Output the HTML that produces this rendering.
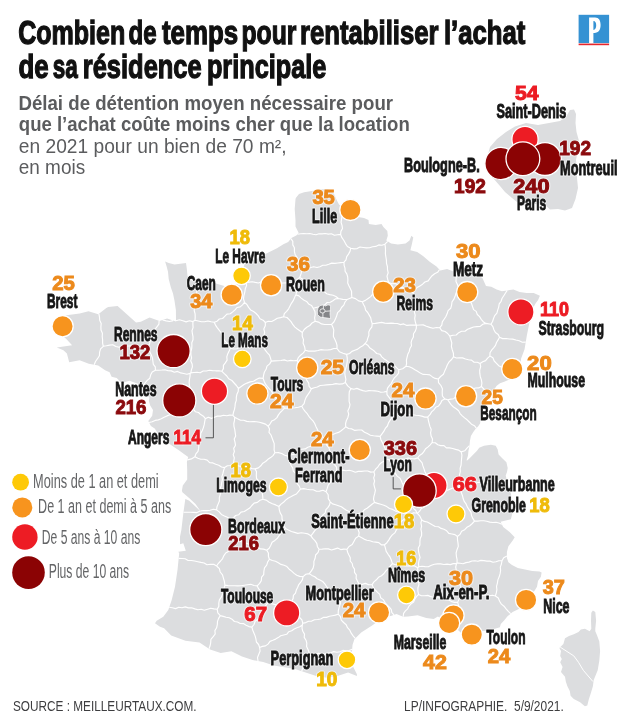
<!DOCTYPE html>
<html><head><meta charset="utf-8"><style>
html,body{margin:0;padding:0;background:#fff;}
svg{display:block;will-change:transform;}
text{font-family:"Liberation Sans",sans-serif;}
</style></head><body>
<svg width="622" height="720" viewBox="0 0 622 720">
<rect width="622" height="720" fill="#fff"/>
<path d="M327.3,189.0 L332.4,190.9 L334.4,194.8 L336.9,200.6 L339.0,204.4 L342.5,207.5 L349.0,212.0 L355.0,215.5 L359.5,217.3 L364.0,217.9 L368.5,219.9 L368.9,224.1 L375.7,225.1 L381.5,224.1 L383.4,227.0 L387.3,230.9 L387.8,235.7 L386.3,240.5 L391.1,243.4 L397.9,244.4 L405.6,243.4 L409.5,240.5 L411.4,235.7 L413.3,237.6 L411.8,244.4 L410.4,250.2 L417.2,252.1 L423.0,256.0 L429.7,261.7 L436.5,266.6 L440.3,270.4 L447.1,269.1 L454.1,271.8 L462.0,272.5 L470.0,272.5 L478.0,275.0 L482.4,278.0 L486.0,286.0 L491.3,286.8 L496.6,289.5 L501.9,291.3 L507.2,290.4 L513.4,289.5 L519.6,292.1 L526.6,293.0 L533.7,293.0 L539.9,295.7 L538.1,300.1 L535.5,303.6 L533.0,308.0 L529.1,324.2 L526.8,335.7 L524.5,349.4 L521.1,358.5 L520.0,368.0 L518.5,376.0 L516.5,379.0 L508.3,380.0 L504.2,381.7 L500.0,383.3 L496.7,385.8 L493.3,390.8 L489.0,396.0 L486.0,401.0 L483.0,406.0 L481.0,412.0 L480.5,418.0 L480.2,423.3 L478.2,426.3 L475.3,429.2 L473.3,432.1 L470.9,436.0 L469.9,440.9 L469.5,445.7 L468.5,450.6 L468.0,455.4 L466.5,460.5 L467.5,460.3 L470.4,457.4 L473.3,454.5 L476.3,451.6 L477.2,450.6 L479.2,447.7 L484.0,445.7 L490.9,444.7 L495.7,445.7 L497.7,449.6 L498.6,454.5 L502.5,458.4 L506.4,462.3 L507.7,468.0 L507.0,472.0 L505.7,475.4 L508.0,485.0 L510.9,493.4 L512.0,505.0 L512.2,514.0 L510.9,519.2 L505.7,520.5 L500.6,521.7 L503.2,526.9 L509.6,532.0 L514.7,537.2 L512.7,540.5 L510.5,543.4 L508.4,546.3 L506.9,552.1 L506.9,557.9 L508.4,562.2 L512.0,565.1 L517.8,568.0 L525.0,569.5 L532.2,570.9 L539.5,571.6 L541.6,572.4 L540.9,576.7 L538.0,581.0 L537.0,586.8 L535.0,590.0 L533.0,593.0 L529.5,595.5 L523.5,598.1 L519.3,608.7 L512.6,612.1 L507.5,616.3 L504.1,620.5 L500.8,623.9 L499.9,627.3 L494.0,629.0 L487.3,630.6 L482.2,631.0 L479.6,636.0 L470.4,634.8 L465.1,636.7 L458.0,630.0 L452.4,629.9 L446.2,628.5 L446.1,624.5 L443.9,620.6 L437.9,616.5 L433.7,619.0 L426.3,618.1 L417.6,615.2 L408.1,616.5 L403.1,616.7 L396.5,614.0 L391.6,615.8 L382.3,618.1 L378.3,621.0 L372.1,625.6 L361.2,632.4 L354.4,639.3 L352.5,645.0 L351.6,656.6 L353.4,667.2 L356.9,674.3 L356.9,676.1 L348.1,672.5 L337.5,676.1 L326.9,677.8 L316.3,676.1 L305.6,672.5 L295.0,669.0 L284.4,667.2 L273.8,665.4 L263.2,661.9 L252.6,660.1 L242.0,656.6 L231.4,651.3 L220.7,653.1 L210.1,649.5 L199.5,642.4 L185.4,640.7 L171.2,635.4 L164.1,628.3 L160.0,626.7 L155.0,623.3 L156.7,620.8 L163.3,616.7 L168.3,610.0 L171.7,600.0 L175.0,586.7 L177.5,570.0 L179.2,553.3 L178.3,551.7 L185.8,550.8 L183.3,543.3 L180.0,544.2 L180.0,536.7 L181.4,529.8 L183.3,513.4 L185.3,498.9 L189.0,500.5 L196.0,507.0 L200.7,511.5 L195.5,504.0 L189.1,498.0 L182.4,492.2 L181.9,490.7 L182.8,485.4 L187.2,479.6 L187.2,470.0 L186.9,462.0 L188.2,456.9 L184.3,454.3 L179.2,450.5 L171.4,445.3 L163.0,439.0 L157.0,432.0 L154.7,428.6 L150.9,426.0 L148.3,420.9 L152.2,415.7 L153.0,410.0 L150.2,405.4 L148.9,400.9 L149.4,397.2 L139.9,395.6 L136.3,392.5 L138.7,384.1 L129.4,380.7 L121.6,383.1 L116.7,378.0 L111.6,376.7 L109.6,372.2 L105.1,370.3 L98.2,365.5 L88.8,363.7 L79.6,360.2 L69.2,362.2 L66.9,353.4 L63.4,350.3 L56.8,347.4 L72.1,345.3 L66.3,339.1 L62.8,336.0 L66.8,333.5 L67.0,330.7 L56.8,330.9 L57.1,324.1 L60.6,318.7 L66.5,315.2 L79.7,313.5 L88.5,311.3 L98.3,314.3 L106.3,308.1 L108.2,307.1 L117.6,306.0 L124.6,312.2 L131.0,318.0 L136.0,322.5 L140.8,321.7 L149.6,317.6 L159.5,321.0 L167.1,318.6 L176.0,321.5 L175.9,310.0 L174.5,300.7 L173.0,293.4 L170.9,287.6 L168.7,278.9 L168.0,271.7 L166.5,265.9 L165.1,261.6 L168.7,263.0 L174.5,264.5 L180.3,263.7 L186.0,263.0 L186.8,268.8 L187.5,276.0 L190.0,280.0 L196.0,281.5 L204.1,280.4 L214.3,283.0 L227.7,286.9 L237.0,284.3 L245.6,279.4 L241.0,275.3 L243.0,269.1 L245.0,262.9 L251.3,260.2 L256.1,259.6 L262.5,255.6 L268.9,252.3 L277.0,248.3 L283.4,244.3 L288.2,241.9 L291.4,237.9 L296.3,235.5 L298.7,233.1 L295.5,226.6 L295.5,220.2 L294.7,208.9 L295.5,199.3 L295.8,198.0 L299.0,194.1 L304.1,192.2 L311.9,190.9 L319.6,189.6Z" fill="#dcdddf"/>
<path d="M592.9,610.4 L595.3,612 L596.1,620.8 L595.3,628.8 L595.3,631.2 L596.9,635.1 L599.3,641.5 L600.1,651.1 L599.3,660.7 L597.7,670.3 L593.7,679.9 L592.9,686.3 L590.5,694.2 L588.9,699 L587.3,705.4 L584.9,706.2 L580.1,702.2 L573.8,699 L570.6,695.8 L569.8,691.1 L567.4,686.3 L565.8,681.5 L565,676.7 L561,671.9 L562.6,667.1 L560.2,662.3 L561.8,659.1 L560.2,655.9 L561,651.1 L559.4,647.9 L563.4,643.9 L565,638.3 L569,635.9 L573.8,634.3 L578.5,632 L580.9,629.6 L584.9,628.8 L589.7,631.2 L591.3,628.8 L591,620.8 L591.3,612.8Z" fill="#dcdddf"/>
<path d="M560.2,647.1 L573.8,655.9 L578.5,662.3 L583.3,670.3 L592.9,681.5" fill="none" stroke="#fff" stroke-width="1"/>
<path d="M342.3,207.3 L342.7,210.4 L342.1,213.3 L342.1,216.4 L341.5,219.4 L341.1,222.4 L342.0,225.4 L342.5,228.5 L340.9,231.4 L340.6,234.4 M340.6,234.4 L337.5,234.8 L334.4,235.3 L331.4,233.8 L328.3,234.1 L325.2,233.5 L322.1,233.9 L319.0,233.8 L316.0,234.8 L312.9,234.3 L309.8,233.5 L306.7,233.8 L303.6,233.5 L300.6,233.8 L297.5,234.3 M387.8,241.4 L384.9,244.2 M439.5,269.6 L437.6,272.3 L434.6,273.7 L432.1,275.7 L430.1,278.2 L428.2,280.9 L424.9,282.0 L422.6,284.2 L419.9,285.9 L417.1,287.6 L414.8,289.8 L413.0,292.6 M413.0,292.6 L410.3,290.5 L407.0,289.8 L404.2,288.0 L400.9,287.2 L398.2,285.2 L395.3,283.6 L391.7,283.8 L388.6,282.4 M388.6,282.4 L387.7,279.3 L387.0,276.1 L388.2,272.8 L387.5,269.7 L387.4,266.5 L386.5,263.4 L386.4,260.2 L385.9,257.0 L385.4,253.8 L385.5,250.6 L385.4,247.4 L384.9,244.2 M340.6,234.4 L341.9,237.7 L343.9,240.5 L345.5,243.6 L347.4,246.5 L350.7,248.3 M350.7,248.3 L354.0,248.9 L357.1,248.6 L360.0,247.0 L363.3,247.5 L366.4,247.9 L369.6,247.7 L372.6,246.8 L375.7,246.4 L378.7,244.9 L381.9,245.2 L384.9,244.2 M209.0,648.7 L210.1,645.8 L210.7,642.6 L210.9,639.3 L213.2,636.7 L215.2,634.0 L214.9,630.6 L216.6,627.8 L217.3,624.7 L217.5,621.4 L218.6,618.4 L220.3,615.6 M169.2,607.2 L172.4,607.7 L175.6,608.6 L178.8,607.2 L182.0,607.8 L185.3,606.9 L188.4,607.9 L191.6,607.7 L194.8,608.9 L197.9,609.8 L201.2,609.3 L204.3,610.2 L207.6,609.2 L210.8,608.2 L214.0,608.9 L217.2,609.2 M220.3,615.6 L217.8,612.8 L217.2,609.2 M350.7,248.3 L350.0,251.4 L348.5,254.1 L346.7,256.7 L346.0,259.8 L344.0,262.2 M290.9,238.6 L292.8,241.4 L292.8,244.9 L294.4,247.8 L294.4,251.3 L295.1,254.5 L297.0,257.3 L298.4,260.3 L299.5,263.4 L300.4,266.6 L301.8,269.6 M344.0,262.2 L340.9,262.6 L337.9,263.0 L334.9,263.4 L331.7,263.1 L328.8,264.2 L325.9,265.2 L322.8,265.3 L319.9,266.7 L317.0,267.5 L313.7,266.7 L310.8,267.5 L307.8,268.2 L304.9,269.6 L301.8,269.6 M98.9,313.8 L99.5,317.1 L99.7,320.3 L101.2,323.4 L100.9,326.8 L101.0,330.1 L102.4,333.2 L102.2,336.5 L102.6,339.8 L102.6,343.1 L103.3,346.3 M94.2,364.7 L95.5,361.5 L97.5,358.7 L99.4,355.8 L99.6,352.1 L100.6,348.8 L103.3,346.3 M241.8,272.9 L244.2,278.2 M245.0,279.8 L246.0,281.9 M299.7,277.5 L301.1,273.6 L301.8,269.6 M299.7,277.5 L296.9,279.6 L295.8,282.9 M295.8,282.9 L292.7,283.1 L289.6,283.1 L286.5,282.7 L283.3,283.0 L280.2,283.1 L277.1,283.2 L274.0,283.1 L270.9,282.6 L267.8,282.9 L264.7,282.8 L261.6,281.9 L258.4,283.0 L255.3,282.4 L252.2,281.7 L249.1,282.1 L246.0,281.9 M388.6,282.4 L386.3,284.8 L383.2,286.0 L381.0,288.5 L378.6,290.8 L375.9,292.6 L372.8,293.9 L370.7,296.6 L368.1,298.5 L365.4,300.4 L362.3,301.7 M344.0,262.2 L344.1,265.3 L345.0,268.2 L345.1,271.2 L346.8,273.9 L347.7,276.8 L347.9,279.9 L347.7,283.0 L348.9,285.8 L350.3,288.6 L351.6,291.4 L351.6,294.5 L351.9,297.5 M362.3,301.7 L358.6,300.9 L355.5,298.6 L351.9,297.5 M217.2,609.2 L218.8,606.4 L218.8,603.0 L219.4,599.9 L221.3,597.2 L222.5,594.2 L223.9,591.4 L224.1,588.1 L224.9,585.1 M178.7,558.4 L182.0,558.5 L185.2,558.8 L188.1,560.5 L191.4,560.5 L194.6,561.0 L197.8,561.7 L200.9,562.4 L204.1,563.0 L207.0,564.7 L210.4,564.3 L213.7,564.3 L216.6,566.0 M224.9,585.1 L224.4,581.5 L223.4,578.1 L222.5,574.8 L220.2,572.0 L219.4,568.6 L216.6,566.0 M155.4,370.2 L155.3,366.9 L153.3,364.3 L152.9,361.2 L152.5,358.1 L151.4,355.3 L150.1,352.4 L148.5,349.7 L147.6,346.8 M155.4,370.2 L158.6,370.2 L161.8,370.0 L165.0,369.7 L168.1,370.8 L171.3,370.9 L174.3,372.2 L177.6,371.4 L180.7,372.9 L183.8,373.5 L186.9,374.2 L190.2,373.4 M190.2,373.4 L190.8,372.9 M190.8,372.9 L191.4,369.9 L192.4,366.9 L192.1,363.9 L190.7,360.8 L191.6,357.8 L190.9,354.8 L190.9,351.7 L191.7,348.7 L191.9,345.7 L191.8,342.7 L193.0,339.7 L193.0,336.7 L192.4,333.7 L192.0,330.6 L193.1,327.6 L192.9,324.6 L192.9,321.6 M147.6,346.8 L149.5,344.1 L150.2,341.0 L150.9,337.9 L152.5,335.1 L154.5,332.6 L154.9,329.3 L156.9,326.8 L158.9,324.2 L159.1,320.9 M162.6,320.0 L166.1,320.9 L169.6,321.5 L173.1,320.6 M176.0,320.7 L179.4,319.8 L182.8,320.7 L186.1,321.9 L189.5,320.8 L192.9,321.6 M137.5,393.5 L139.1,390.6 L140.8,387.9 L143.2,385.5 L145.1,382.9 L147.2,380.4 L149.8,378.2 L150.7,374.8 L152.2,371.9 L155.4,370.2 M103.3,346.3 L106.4,345.8 L109.6,345.1 L112.8,344.7 L115.9,346.5 L119.1,347.3 L122.3,346.0 L125.5,346.3 L128.6,346.0 L131.8,345.9 L135.0,345.9 L138.1,346.6 L141.3,346.8 L144.5,346.6 L147.6,346.8 M191.0,407.4 L190.4,404.3 L190.1,401.2 L189.5,398.2 L190.1,395.1 L190.8,391.9 L190.4,388.9 L189.5,385.8 L189.1,382.7 L189.4,379.6 L190.0,376.5 L190.2,373.4 M149.1,422.5 L152.2,421.8 L155.1,420.4 L158.3,419.9 L161.3,418.8 L164.1,417.3 L167.0,415.9 L170.0,414.8 L173.2,414.2 L176.1,412.8 L179.2,412.1 L182.1,410.8 L184.9,409.1 L188.0,408.4 L191.0,407.4 M196.6,281.4 L196.2,284.6 L197.1,287.9 L196.8,291.2 L196.6,294.4 L195.4,297.6 L194.6,300.8 L195.3,304.1 L194.5,307.3 L194.2,310.5 L195.1,313.8 L195.2,317.0 L195.0,320.3 M195.0,320.3 L192.9,321.6 M246.0,281.9 L246.6,285.4 L245.3,288.7 L244.8,292.1 L243.9,295.5 L243.5,298.9 L244.5,302.4 M195.0,320.3 L198.2,321.0 L201.4,321.7 L204.6,321.8 L207.9,321.0 L211.1,321.8 L214.2,322.3 M244.5,302.4 L242.5,304.8 L240.2,306.9 L237.0,307.5 L235.0,309.9 L232.7,311.9 L230.3,313.8 L226.9,314.1 L224.7,316.3 L222.6,318.5 L219.3,319.0 L217.1,321.2 L214.2,322.3 M221.9,371.3 L218.7,370.8 L215.6,370.8 L212.5,370.6 L209.4,370.3 L206.3,371.0 L203.2,371.0 L200.1,372.8 L197.0,372.2 L193.9,372.5 L190.8,372.9 M221.9,371.3 L223.4,368.6 L223.4,365.4 L225.3,362.8 L227.1,360.2 L226.8,356.8 L227.7,353.9 L229.1,351.1 L230.3,348.3 M230.3,348.3 L229.3,345.4 L227.0,343.2 L224.8,340.9 L223.1,338.4 L222.0,335.5 L221.0,332.5 L219.1,330.1 L217.2,327.6 L215.5,325.1 L214.2,322.3 M220.3,615.6 L223.2,616.4 L226.1,617.3 L229.3,617.7 L232.0,619.2 L234.4,621.5 L237.5,622.0 L240.2,623.5 L243.4,623.6 L246.1,625.2 L248.9,626.6 L251.9,627.1 M251.9,627.1 L252.7,630.1 L253.9,633.0 L255.1,635.9 L255.9,638.9 L256.4,642.0 L258.6,644.5 L259.6,647.5 M258.0,661.0 L257.5,657.5 L258.8,654.3 L260.1,651.0 L259.6,647.5 M362.3,301.7 L363.5,304.4 L364.9,307.1 L365.6,310.1 L367.7,312.5 L369.2,315.1 L370.7,317.7 L371.3,320.8 L372.2,323.7 M413.0,292.6 L413.7,295.8 L414.4,299.0 L414.0,302.3 L413.3,305.6 L414.5,308.8 L414.4,312.1 L415.2,315.2 L414.7,318.6 L415.3,321.8 L416.2,324.9 M372.2,323.7 L375.4,323.4 L378.5,322.9 L381.7,322.4 L384.8,323.1 L387.9,323.4 L391.1,323.1 L394.2,323.4 L397.4,323.5 L400.5,324.6 L403.7,323.9 L406.8,325.4 L409.9,325.1 L413.0,325.1 L416.2,324.9 M299.7,277.5 L302.5,278.9 L304.9,281.1 L307.5,282.9 L310.4,284.1 L313.4,285.3 L316.0,287.1 L318.5,289.0 L321.7,289.8 L324.3,291.6 L326.7,293.7 L329.8,294.6 L333.1,295.3 L335.9,296.5 L338.5,298.5 M351.9,297.5 L347.1,299.5 M338.5,298.5 L342.8,299.4 L347.1,299.5 M457.0,272.1 L456.8,275.2 L456.1,278.3 L456.0,281.4 L457.4,284.4 L458.3,287.4 L457.9,290.6 M416.2,324.9 L416.4,325.2 M416.4,325.2 L419.8,325.0 L423.2,324.9 L426.4,326.2 L429.7,327.4 L433.0,328.3 L436.4,327.5 L439.8,327.7 M457.9,290.6 L456.0,293.2 L455.1,296.3 L453.9,299.2 L452.0,301.8 L451.6,305.2 L450.7,308.3 L448.1,310.6 L447.2,313.6 L445.9,316.5 L444.1,319.2 L442.3,321.9 L441.8,325.2 L439.8,327.7 M510.7,613.6 L508.3,611.4 L506.1,608.8 L504.0,606.2 L501.4,604.1 L499.6,601.2 L498.3,598.0 L495.4,596.0 M455.6,630.0 L455.6,626.9 L456.1,623.8 L455.5,620.7 L455.6,617.6 L456.6,614.6 L456.1,611.5 L457.6,608.6 L458.5,605.5 L457.7,602.4 M457.7,602.4 L459.3,598.6 L462.3,595.7 M495.4,596.0 L492.4,595.2 L489.4,595.7 L486.4,595.2 L483.4,594.9 L480.4,595.8 L477.4,595.4 L474.4,595.3 L471.4,594.8 L468.4,595.8 L465.3,595.3 L462.3,595.7 M506.9,556.0 L503.7,557.7 L502.0,560.8 M495.4,596.0 L496.3,592.9 L496.9,589.7 L496.5,586.3 L497.4,583.1 L497.9,579.9 L499.2,576.8 L500.1,573.7 L500.6,570.5 L500.3,567.1 L501.4,564.0 L502.0,560.8 M251.9,627.1 L254.0,624.5 L255.1,621.3 L257.9,619.2 L259.8,616.5 L260.7,613.2 L263.5,611.1 L264.4,607.8 L266.1,604.9 L268.4,602.5 M224.9,585.1 L228.1,585.6 L231.4,585.7 L234.6,585.7 L237.8,585.9 L241.1,585.7 L244.3,585.2 L247.5,584.7 L250.8,584.3 L254.0,585.5 L257.2,585.9 M268.4,602.5 L267.0,599.5 L265.0,596.8 L263.4,593.8 L261.0,591.4 L258.7,588.9 L257.2,585.9 M191.0,407.4 L193.5,409.1 L195.3,411.7 L198.5,412.5 L200.7,414.6 L203.4,416.2 L205.3,418.7 M187.4,459.9 L191.4,458.9 L194.9,456.8 M205.3,418.7 L204.7,421.7 L204.2,424.7 L203.4,427.6 L202.3,430.5 L200.8,433.2 L200.6,436.3 L199.0,439.0 L199.3,442.3 L198.8,445.3 L198.6,448.4 L198.0,451.4 L195.9,453.9 L194.9,456.8 M345.3,382.4 L345.9,379.3 L345.2,376.2 L344.8,373.1 L345.2,370.0 L346.2,366.9 L346.9,363.8 L347.3,360.7 L347.2,357.6 L346.6,354.4 M365.1,343.5 L362.8,345.8 L360.1,347.2 L357.7,349.1 L354.8,350.2 L351.9,351.4 L349.6,353.5 L346.6,354.4 M350.9,388.6 L347.7,385.9 L345.3,382.4 M350.9,388.6 L353.9,389.3 L356.9,388.4 L359.9,389.6 L362.8,390.6 L365.8,391.3 L368.9,390.6 L371.9,390.7 L374.9,390.9 L377.9,391.2 L380.8,392.3 L383.8,392.0 L386.9,391.4 M365.1,343.5 L367.7,345.2 L369.6,347.7 L372.1,349.4 L374.5,351.3 L376.7,353.5 L380.0,354.2 L381.8,356.8 L384.1,358.9 L386.6,360.6 L389.0,362.4 L391.6,364.2 L394.4,365.5 L396.5,367.7 L398.8,369.8 M386.9,391.4 L387.5,388.2 L389.4,385.7 L391.4,383.3 L392.7,380.5 L394.4,377.9 L396.7,375.7 L398.6,373.2 L398.8,369.8 M372.2,323.7 L371.9,326.8 L370.0,329.3 L368.8,332.1 L368.9,335.3 L367.8,338.1 L367.0,341.0 L365.1,343.5 M416.4,325.2 L416.3,328.3 L415.3,331.1 L413.5,333.8 L413.4,336.9 L411.9,339.7 L411.1,342.6 L411.5,345.8 L409.9,348.5 L409.2,351.5 L407.8,354.3 L407.1,357.2 L406.4,360.2 L406.6,363.4 L406.0,366.3 M398.8,369.8 L402.7,368.7 L406.0,366.3 M234.7,417.3 L232.9,415.3 M234.7,417.3 L237.5,418.8 L240.5,420.2 L243.7,420.3 L246.7,421.4 L249.8,421.8 L253.1,421.6 L256.4,421.7 L259.5,422.2 L262.5,423.1 L265.5,424.1 L268.2,426.2 M232.9,415.3 L233.5,412.3 L234.5,409.4 L235.0,406.4 L235.3,403.3 L236.3,400.4 L236.3,397.3 L236.9,394.3 L238.2,391.5 L238.4,388.4 M268.2,426.2 L270.1,423.8 L271.7,421.1 L274.6,419.7 L276.9,417.6 L278.4,414.9 L280.2,412.5 L282.4,410.3 L284.4,408.1 M284.4,408.1 L282.8,405.5 L280.5,403.4 L278.0,401.5 L276.2,399.0 L275.4,395.8 L273.0,393.8 L271.5,391.1 L269.4,388.9 L267.4,386.5 L265.5,384.2 L264.2,381.4 L263.1,378.4 M238.4,388.4 L241.2,386.5 L244.0,384.6 L247.0,383.1 L250.1,381.9 L253.5,381.3 L256.3,379.6 L259.3,378.0 L263.1,378.4 M221.9,371.3 L224.3,373.7 L226.8,376.0 L228.7,378.8 L231.9,380.5 L234.1,383.0 L236.4,385.5 L238.4,388.4 M205.3,418.7 L208.2,417.2 L211.5,418.4 L214.4,417.2 L217.4,416.1 L220.5,416.1 L223.5,415.3 L226.7,415.7 L229.7,415.1 L232.9,415.3 M346.6,354.4 L343.0,353.2 L339.4,351.7 L337.0,348.5 M347.1,299.5 L345.0,302.0 L343.8,305.1 L341.5,307.5 L340.0,310.4 L337.6,312.7 L336.6,316.0 L335.4,319.1 L333.9,322.0 L331.5,324.3 M337.0,348.5 L337.0,345.4 L336.2,342.4 L334.9,339.5 L333.4,336.6 L333.5,333.4 L333.8,330.2 L332.9,327.2 L331.5,324.3 M457.9,290.6 L460.5,292.4 L463.2,294.2 L465.3,296.4 L467.2,298.8 L469.4,301.0 L471.5,303.3 L472.5,306.5 L473.6,309.6 L476.2,311.4 L477.3,314.5 L479.6,316.6 L481.2,319.3 L483.2,321.7 L485.9,323.4 M439.8,327.7 L441.7,330.6 L445.1,331.5 L447.7,333.5 L449.8,336.1 M449.8,336.1 L452.9,335.2 L456.2,335.0 L458.7,332.7 L461.6,331.3 L465.0,331.2 L467.6,329.2 L470.7,328.1 L473.6,327.0 L476.9,326.6 L480.2,326.4 L482.8,324.3 L485.9,323.4 M507.2,290.4 L505.5,293.0 L503.8,295.7 L502.1,298.3 L501.1,301.3 L499.2,303.9 L498.7,307.1 L497.7,310.1 L496.9,313.2 L494.7,315.6 L493.5,318.5 L492.6,321.5 L490.9,324.2 M525.7,342.1 L522.3,342.2 L519.2,340.8 L515.9,340.0 L512.7,339.1 L509.3,339.0 L506.0,338.5 L502.6,338.6 L499.5,337.3 M499.5,337.3 L498.2,334.4 L495.4,332.5 L493.9,329.7 L492.9,326.6 L490.9,324.2 M490.9,324.2 L485.9,323.4 M502.0,560.8 L498.9,560.7 L496.0,561.8 L493.0,562.2 L490.0,561.1 L486.9,561.1 L483.9,560.6 L480.9,560.4 L477.9,561.3 L474.9,560.8 L471.9,561.0 L469.0,562.1 L466.0,562.6 L463.0,563.7 L460.0,563.3 L457.0,562.9 M462.3,595.7 L462.7,592.4 L460.9,589.4 L460.6,586.1 L459.1,583.0 L458.0,579.9 L458.4,576.5 L457.5,573.4 L456.3,570.3 L455.7,567.1 L456.5,563.6 M456.5,563.6 L457.0,562.9 M194.9,456.8 L197.8,458.2 L200.8,459.3 L204.1,459.2 L207.2,460.1 L209.6,462.6 L212.9,462.9 L215.7,464.3 L218.8,465.2 L221.5,467.0 L224.6,467.6 M234.7,417.3 L234.5,420.4 L233.8,423.5 L234.0,426.6 L234.8,429.7 L235.2,432.8 L235.7,436.0 L234.2,439.1 L235.0,442.2 L235.5,445.3 L233.7,448.4 L234.4,451.5 L233.2,454.6 L234.3,457.8 L233.8,460.9 L233.5,464.0 M224.6,467.6 L227.4,465.8 L230.7,465.5 L233.5,464.0 M183.5,512.2 L186.8,512.3 L190.2,512.2 L193.6,512.4 L197.0,512.6 L200.2,511.1 M200.4,511.0 L203.6,510.5 L206.9,510.6 L210.1,510.3 L213.3,509.2 L216.6,509.9 M224.6,467.6 L223.6,470.5 L222.9,473.5 L221.9,476.5 L222.4,479.7 L221.7,482.7 L221.2,485.7 L220.1,488.7 L220.7,491.9 L220.1,494.9 L219.3,497.9 L219.4,501.0 L218.2,503.9 L217.0,506.8 L216.6,509.9 M216.6,566.0 L218.4,563.3 L220.6,561.0 L222.6,558.6 L223.9,555.6 L225.7,553.0 L228.7,551.3 L230.0,548.3 L231.7,545.7 L233.0,542.7 L235.6,540.7 M235.6,540.7 L234.3,537.7 L233.0,534.7 L233.7,531.3 L233.2,528.1 L233.0,524.9 L232.7,521.6 L230.3,519.0 M216.6,509.9 L219.2,511.9 L221.4,514.4 L224.4,515.9 L227.4,517.3 L230.3,519.0 M268.4,602.5 L271.5,603.7 L274.6,604.4 L277.7,604.9 L280.8,604.3 L283.9,604.7 L287.1,604.1 L290.2,603.9 M257.2,585.9 L259.6,583.4 L261.3,580.6 L261.6,577.2 L263.7,574.6 L263.9,571.1 L264.5,567.8 L266.7,565.2 L267.6,562.1 L269.4,559.3 M290.2,603.9 L291.6,601.2 L293.1,598.6 L293.4,595.4 L295.5,593.1 L296.3,590.1 L297.6,587.4 L298.8,584.6 L300.8,582.2 L302.4,579.6 L303.1,576.6 M269.4,559.3 L272.3,560.5 L275.5,561.2 L278.3,562.7 L281.0,564.4 L284.1,565.3 L286.9,566.6 L289.2,569.2 L291.7,571.1 L294.1,573.4 L296.7,575.3 L299.7,576.4 L303.1,576.6 M235.6,540.7 L238.8,541.4 L242.1,541.7 L245.2,542.7 L248.2,543.9 L251.2,545.2 L254.3,546.4 L257.5,547.0 L260.3,548.9 L263.6,549.1 L266.7,550.2 M269.4,559.3 L268.4,556.3 L268.4,553.0 L266.7,550.2 M338.5,298.5 L335.4,298.9 L332.9,300.7 L330.3,302.3 L327.1,302.5 L324.8,304.8 L322.1,306.2 L319.1,306.7 L316.1,307.5 L313.2,308.3 M331.5,324.3 L328.1,324.5 L324.7,324.5 L321.5,323.9 L318.4,322.1 L315.2,321.3 M315.2,321.3 L314.6,318.0 L315.2,314.6 L314.9,311.4 L313.2,308.3 M295.8,282.9 L294.7,285.9 L296.2,288.9 L296.7,291.9 L295.7,294.9 M295.7,294.9 L298.9,295.9 L301.2,298.1 L303.7,300.0 L306.6,301.4 L308.6,303.9 L311.5,305.4 L313.2,308.3 M449.8,336.1 L450.8,339.5 L451.8,342.9 L451.4,346.5 L452.3,349.9 L453.4,353.2 L453.5,356.8 M406.0,366.3 L409.3,366.7 L412.1,368.0 L414.9,369.7 L417.6,371.2 L420.3,373.1 L423.2,374.4 L426.5,374.5 L429.8,374.9 L432.4,376.9 L435.2,378.4 L438.3,379.0 M453.5,356.8 L451.6,359.5 L449.1,361.9 L447.4,364.8 L446.1,368.0 L444.7,371.1 L443.4,374.3 L440.6,376.5 L438.3,379.0 M501.9,524.2 L498.9,523.0 L496.0,522.2 L492.8,522.5 L489.8,522.1 L486.8,521.2 L483.8,520.7 L480.7,520.8 L477.6,521.1 L474.5,521.1 M457.0,562.9 L457.1,559.6 L456.4,556.3 L456.1,553.0 L457.0,549.7 L458.3,546.4 L458.0,543.1 L457.5,539.8 L457.4,536.5 M474.5,521.1 L472.3,523.5 L469.8,525.7 L466.9,527.3 L464.7,529.7 L461.6,531.3 L460.0,534.4 L457.4,536.5 M301.7,671.2 L302.8,667.9 L304.5,664.8 L305.9,661.6 L308.3,658.9 L309.2,655.5 M259.6,647.5 L262.4,646.4 L265.5,645.9 L268.0,644.1 L270.0,641.4 L272.9,640.3 L275.6,639.1 L278.2,637.6 L280.7,635.8 L283.7,635.0 L286.7,634.3 L288.8,631.7 L291.7,630.8 L294.2,629.0 L296.9,627.7 L299.8,626.8 L302.3,625.0 M302.3,625.0 L302.0,628.2 L302.8,631.3 L304.5,634.1 L304.2,637.4 L306.0,640.2 L306.8,643.2 L306.6,646.4 L308.0,649.4 L309.0,652.3 L309.2,655.5 M290.2,603.9 L291.2,607.2 L292.5,610.3 L295.2,612.4 L297.4,615.0 L299.6,617.5 L301.9,619.9 L302.8,623.2 M302.3,625.0 L302.8,623.2 M268.2,426.2 L269.5,429.0 L269.0,432.3 L271.0,435.0 L272.0,437.8 L273.1,440.7 L274.2,443.6 L274.2,446.7 L274.1,449.9 L274.9,452.8 M233.5,464.0 L236.4,465.4 L239.5,466.1 L242.5,467.2 L246.0,466.3 L249.1,466.8 L251.9,468.8 L255.1,468.9 M274.9,452.8 L273.0,455.6 L270.6,457.6 L267.9,459.3 L265.6,461.5 L262.8,463.2 L260.8,465.8 L258.4,467.9 L255.1,468.9 M230.3,519.0 L233.4,518.0 L235.6,515.5 L238.8,514.7 L241.0,512.1 L244.3,511.5 L247.0,509.8 L249.7,508.1 L251.8,505.5 L254.1,503.1 L257.4,502.4 L259.9,500.3 L262.9,499.2 M255.1,468.9 L256.5,471.8 L256.3,475.1 L256.5,478.3 L258.6,480.9 L258.3,484.2 L259.3,487.2 L260.5,490.1 L262.2,492.9 L262.7,496.0 L262.9,499.2 M386.9,391.4 L387.0,394.7 L389.1,397.3 L391.0,399.9 L392.5,402.7 L393.9,405.5 L394.7,408.5 L394.8,411.9 M438.3,379.0 L438.5,382.6 L440.9,385.5 L442.4,388.7 L442.2,392.4 L442.4,396.0 L444.7,398.9 M444.7,398.9 L441.9,400.4 L440.5,403.4 L438.6,405.9 L435.7,407.3 L433.9,409.9 L431.6,411.9 L430.0,414.7 L427.8,416.9 M394.8,411.9 L397.9,411.5 L401.0,411.9 L403.8,413.3 L406.7,414.3 L409.7,414.7 L412.8,414.8 L415.8,415.3 L418.8,415.5 L421.8,416.1 L424.7,417.1 L427.8,416.9 M345.7,426.8 L345.6,423.5 L346.4,420.4 L347.9,417.4 L348.7,414.2 L347.8,410.9 L349.3,407.8 L350.0,404.7 L349.1,401.4 L349.1,398.1 L349.1,394.9 L349.3,391.7 L350.9,388.6 M345.7,426.8 L348.6,428.5 L351.9,428.9 L354.8,430.4 L358.3,430.0 L361.7,430.0 L364.5,432.2 L367.4,433.6 L370.4,435.2 L373.5,435.8 L376.8,436.1 L380.1,436.4 M394.8,411.9 L392.7,414.3 L392.0,417.6 L390.1,420.2 L388.5,422.9 L387.4,426.0 L385.3,428.4 L383.9,431.2 L382.0,433.8 L380.1,436.4 M302.3,332.5 L299.8,330.7 L297.3,329.0 L294.9,327.1 L292.9,324.7 L291.2,321.9 L289.2,319.6 L287.0,317.5 L283.6,316.8 M302.3,332.5 L302.2,336.1 L303.5,339.6 L303.1,343.3 L304.6,346.7 L305.2,350.2 M297.1,360.4 L298.5,357.3 L300.8,355.0 L303.4,352.9 L305.2,350.2 M297.1,360.4 L293.9,360.8 L290.7,360.4 L287.4,361.0 L284.2,359.9 L281.0,360.5 L277.8,360.8 L274.5,360.9 L271.3,361.1 M271.3,361.1 L270.5,358.1 L269.5,355.1 L267.4,352.8 L265.4,350.4 L264.0,347.8 L262.0,345.4 M262.0,345.4 L261.5,342.0 L262.3,338.8 L263.8,335.6 L264.7,332.4 L263.8,329.0 L265.3,325.8 L265.3,322.5 M265.3,322.5 L268.3,321.3 L271.7,321.5 L274.5,319.9 L277.3,318.2 L280.5,317.6 L283.6,316.8 M315.2,321.3 L312.1,322.9 L309.8,325.5 L306.8,327.2 L304.2,329.5 L302.3,332.5 M295.7,294.9 L294.5,297.8 L293.2,300.7 L291.4,303.3 L290.0,306.0 L288.6,308.8 L286.6,311.3 L284.3,313.7 L283.6,316.8 M337.0,348.5 L333.8,348.5 L330.6,349.6 L327.5,350.0 L324.3,350.0 L321.1,349.6 L318.0,350.5 L314.8,351.1 L311.7,351.1 L308.5,351.1 L305.2,350.2 M345.3,382.4 L342.4,383.9 L339.2,384.1 L335.9,383.6 L332.8,384.4 L329.7,384.6 L326.5,384.9 L323.4,385.2 L320.2,385.5 L317.3,387.0 L314.2,387.7 L311.2,388.9 M311.2,388.9 L309.1,386.4 L308.7,383.1 L306.9,380.4 L305.5,377.6 L304.9,374.3 L302.7,371.8 L300.7,369.3 L300.2,365.9 L298.8,363.1 L297.1,360.4 M263.1,378.4 L263.6,375.2 L264.4,372.0 L266.1,369.3 L267.0,366.1 L269.7,363.9 L271.3,361.1 M301.8,406.2 L298.4,407.3 L295.0,407.8 L291.5,408.0 L288.0,408.1 L284.4,408.1 M311.2,388.9 L309.8,391.9 L307.9,394.6 L306.1,397.4 L304.9,400.4 L304.1,403.7 L301.8,406.2 M230.3,348.3 L233.6,349.0 L236.8,348.7 L239.8,347.1 L243.0,346.8 L246.2,347.2 L249.5,347.9 L252.5,346.0 L255.6,344.8 L258.8,345.0 L262.0,345.4 M244.5,302.4 L246.9,304.5 L248.6,307.4 L250.6,309.9 L253.6,311.5 L256.1,313.5 L258.3,315.9 L260.0,318.7 L263.1,320.2 L265.3,322.5 M489.9,356.1 L487.6,358.1 L485.6,360.6 L482.7,361.8 L480.1,363.5 M489.9,356.1 L492.9,357.8 L494.2,361.0 L496.5,363.3 L498.7,365.7 L501.8,367.3 L504.2,369.4 L506.2,372.0 L507.7,375.1 L510.1,377.4 L512.5,379.5 M480.1,363.5 L480.7,366.7 L479.7,370.1 L479.8,373.4 L480.3,376.7 L481.4,379.9 L481.9,383.2 L481.4,386.5 M481.4,386.5 L484.2,389.4 L488.2,390.6 L491.4,393.1 M499.5,337.3 L498.1,339.9 L496.5,342.5 L495.5,345.4 L493.6,347.8 L491.6,350.2 L490.0,352.8 L489.9,356.1 M453.5,356.8 L456.3,358.0 L459.5,357.9 L462.6,357.9 L465.5,359.0 L468.5,359.7 L471.5,360.1 L474.1,362.2 L477.3,362.2 L480.1,363.5 M447.7,399.7 L444.7,398.9 M447.7,399.7 L450.7,399.1 L453.8,398.7 L456.1,396.3 L459.3,396.1 L461.9,394.4 L464.4,392.6 L467.0,391.1 L469.6,389.5 L472.7,389.0 L475.5,388.0 L478.7,387.9 L481.4,386.5 M476.3,428.2 L474.4,425.7 L471.5,424.2 L469.3,422.0 L467.1,419.8 L464.6,417.9 L462.3,415.8 L460.1,413.6 L458.6,410.8 L456.2,408.8 L453.5,407.0 L451.3,404.9 L449.5,402.3 L447.7,399.7 M302.8,623.2 L305.8,622.6 L308.6,621.3 L311.7,621.1 L314.5,619.7 L317.6,619.5 L320.6,619.0 L323.3,617.4 L326.5,617.4 L329.4,616.3 L332.3,615.7 L335.3,615.1 L338.2,614.2 M309.2,655.5 L312.3,655.2 L315.4,654.6 L318.3,653.2 L321.5,653.8 L324.7,654.1 L327.7,653.3 L330.8,652.8 L333.7,651.6 L336.9,652.2 L340.0,651.8 L342.9,650.4 L346.1,650.7 L349.2,650.6 L352.2,649.2 M338.2,614.2 L340.4,616.7 L341.3,620.1 L343.6,622.5 L346.2,624.7 L347.5,627.7 L349.8,630.2 L351.2,633.2 L353.1,635.9 L355.3,638.4 M457.7,602.4 L454.6,602.4 L451.6,601.6 L448.8,600.0 L445.7,599.7 L442.7,599.1 L439.8,597.8 L436.7,597.7 L433.7,597.3 L430.7,596.6 L427.8,595.4 L424.6,595.8 L421.4,595.7 L418.6,594.4 M418.6,594.4 L416.4,596.6 L414.8,599.1 L413.6,602.0 L411.1,603.9 L409.0,606.1 L407.7,608.8 L405.4,610.9 L403.6,613.3 L403.2,616.7 M266.7,550.2 L269.2,548.2 L270.8,545.3 L272.1,542.2 L274.9,540.4 L277.4,538.3 L279.1,535.6 L281.2,533.2 L283.4,530.9 L285.5,528.4 M262.9,499.2 L266.3,500.1 L269.2,502.2 L272.4,503.7 L275.7,504.9 L278.9,506.5 M285.5,528.4 L283.7,525.5 L283.2,522.2 L282.1,519.2 L281.9,515.8 L280.2,512.9 L279.3,509.8 L278.9,506.5 M338.2,614.2 L338.3,610.6 L339.2,607.1 L340.3,603.8 L340.3,600.1 L341.9,596.9 M303.1,576.6 L305.8,574.3 L309.3,573.6 M309.3,573.6 L311.9,575.4 L314.8,576.7 L317.1,578.7 L319.9,580.0 L322.7,581.5 L324.8,583.8 L326.6,586.6 L328.8,588.9 L331.5,590.3 L334.3,591.6 L337.4,592.6 L339.8,594.5 L341.9,596.9 M372.1,584.6 L368.7,584.8 L365.5,583.4 L362.1,584.4 L358.8,583.7 M372.1,584.6 L373.3,587.6 L375.3,590.0 L377.5,592.3 L379.8,594.4 L380.6,597.7 L383.3,599.6 L384.9,602.3 L386.7,604.8 L389.1,606.9 L391.2,609.3 L391.9,612.6 L394.1,614.9 M341.9,596.9 L344.7,595.5 L347.3,593.8 L350.0,592.3 L351.5,589.3 L354.2,587.8 L356.8,586.2 L358.8,583.7 M418.6,594.4 L417.9,591.1 L417.9,587.8 L419.0,584.4 L418.2,581.1 L418.6,577.7 L417.5,574.4 L417.9,571.1 L417.7,567.7 M372.1,584.6 L373.9,581.9 L376.4,579.8 L378.5,577.3 L381.5,575.7 L384.0,573.5 L385.9,570.9 L388.3,568.7 L390.3,566.0 L392.4,563.6 M392.4,563.6 L395.4,564.7 L398.7,564.4 L401.8,565.1 L405.0,565.8 L408.2,566.0 L411.5,565.6 L414.7,565.9 L417.7,567.7 M456.5,563.6 L453.3,563.6 L450.3,564.6 L447.1,564.1 L443.9,564.5 L440.7,563.9 L437.6,563.9 L434.4,564.2 L431.4,565.3 L428.3,566.8 L425.1,566.6 L421.9,566.3 L418.8,566.8 M417.7,567.7 L418.8,566.8 M457.4,536.5 L455.0,534.6 L451.9,534.0 L448.8,533.4 L446.7,530.8 L444.0,529.3 L441.1,528.4 L438.5,526.8 L435.2,526.5 L432.6,525.0 L430.0,523.4 L427.3,522.0 L424.2,521.4 L421.6,519.8 M418.8,566.8 L418.5,563.7 L419.0,560.5 L420.1,557.5 L419.2,554.3 L418.5,551.1 L418.3,547.9 L419.9,544.9 L419.9,541.7 L420.2,538.6 L421.6,535.5 L421.6,532.4 L420.9,529.2 L421.6,526.1 L420.9,522.9 L421.6,519.8 M506.7,479.5 L503.6,480.2 L500.5,480.0 L497.5,481.2 L494.5,482.3 L491.4,482.0 L488.3,482.4 L485.1,481.3 L482.1,482.8 L479.0,482.3 L475.9,483.0 L472.8,482.7 L469.7,483.5 L466.6,483.5 L463.6,484.5 L460.5,484.7 M474.5,521.1 L472.8,518.4 L471.5,515.6 L471.0,512.4 L469.2,509.8 L467.4,507.1 L466.2,504.2 L464.4,501.7 L463.2,498.8 L462.5,495.7 L461.4,492.7 L460.3,489.7 L458.9,486.9 M460.5,484.7 L458.9,486.9 M469.5,445.6 L467.0,448.1 L464.7,450.8 L461.2,451.9 M460.5,484.7 L459.6,481.4 L459.7,478.2 L459.5,474.9 L460.3,471.6 L460.1,468.3 L461.1,465.0 L461.3,461.8 L461.6,458.5 L461.9,455.2 L461.2,451.9 M427.8,416.9 L428.3,420.1 L429.1,423.3 L429.9,426.4 L431.2,429.5 L430.6,432.9 L431.1,436.1 L432.5,439.1 L432.1,442.5 M461.2,451.9 L458.5,450.1 L455.6,449.4 L452.7,448.5 L449.6,447.9 L446.4,447.9 L444.0,445.6 L440.7,445.6 L437.8,444.8 L435.3,442.7 L432.1,442.5 M300.4,489.1 L303.7,488.6 L306.9,489.3 L310.1,489.8 L313.3,489.7 L316.4,491.3 L319.7,491.1 L323.0,490.3 L326.1,491.7 M300.4,489.1 L299.2,486.1 L297.1,483.5 L296.9,480.2 L296.5,476.9 L295.9,473.7 L293.3,471.2 L292.7,468.0 L291.0,465.2 L290.0,462.2 L288.6,459.3 L287.9,456.1 M326.1,491.7 L327.2,488.4 L328.2,485.1 L330.4,482.4 L331.2,479.0 L334.1,476.6 L334.5,473.0 L336.7,470.3 M336.7,470.3 L336.5,467.2 L334.5,464.7 L332.6,462.2 L332.5,459.0 L331.5,456.1 L331.0,453.1 L329.7,450.4 L328.8,447.5 L326.6,445.1 L326.2,442.0 L325.2,439.2 M287.9,456.1 L290.7,454.8 L294.0,454.4 L296.2,451.7 L298.7,449.7 L301.9,449.3 L305.2,448.9 L307.8,447.2 L310.8,446.2 L313.6,444.7 L316.2,443.0 L319.0,441.6 L321.9,440.5 L324.7,439.0 M325.2,439.2 L324.7,439.0 M274.9,452.8 L278.4,452.6 L281.7,453.5 L284.7,455.3 L287.9,456.1 M278.9,506.5 L281.0,504.1 L283.5,502.3 L285.6,500.1 L288.0,498.2 L290.8,496.8 L293.6,495.3 L296.4,494.0 L298.4,491.6 L300.4,489.1 M373.9,471.8 L375.6,469.2 L377.7,467.1 L379.4,464.5 L381.6,462.5 L384.3,460.9 L386.9,459.2 M380.1,436.4 L380.9,439.7 L382.5,442.8 L383.9,445.9 L385.3,449.0 L386.4,452.3 L386.7,455.7 L386.9,459.2 M373.9,471.8 L370.8,472.1 L367.7,471.0 L364.6,471.0 L361.5,471.4 L358.4,471.4 L355.3,472.2 L352.2,471.0 L349.1,470.3 L346.0,470.7 L342.9,470.1 L339.8,470.6 L336.7,470.3 M345.7,426.8 L343.5,428.9 L341.1,430.7 L338.6,432.4 L335.7,433.3 L332.8,434.5 L330.0,435.6 L328.0,438.1 L325.2,439.2 M301.8,406.2 L303.3,409.0 L305.1,411.4 L307.2,413.7 L308.9,416.3 L310.8,418.7 L313.0,420.9 L314.7,423.5 L315.9,426.4 L317.3,429.2 L318.5,432.1 L321.2,434.0 L322.4,436.9 L324.7,439.0 M310.9,535.8 L312.8,533.4 L314.6,530.9 L316.7,528.7 L316.9,525.3 L318.9,523.0 L320.9,520.7 L321.2,517.4 L322.9,514.9 L325.2,512.8 L325.9,509.7 L328.0,507.4 L329.6,504.9 L330.2,501.8 M310.9,535.8 L312.7,538.4 L314.9,540.7 L316.8,543.3 L317.4,546.7 L319.1,549.3 M319.1,549.3 L322.2,549.1 L325.3,548.8 L328.4,548.9 L331.5,550.0 L334.5,549.1 L337.6,548.1 L340.7,549.6 L343.8,549.1 L346.9,549.3 M346.9,549.3 L349.0,546.5 L352.2,544.6 L353.9,541.4 L355.6,538.2 L358.6,536.1 M358.6,536.1 L359.2,532.7 L358.0,529.4 L357.2,526.1 L358.2,522.6 L357.1,519.3 L357.1,516.0 M330.2,501.8 L332.5,503.9 L335.6,504.7 L338.5,505.7 L341.4,506.7 L343.8,508.5 L346.4,510.2 L349.2,511.5 L351.8,513.0 L354.6,514.1 L357.1,516.0 M285.5,528.4 L288.4,530.0 L291.4,531.5 L294.6,532.4 L297.8,533.4 L301.4,532.8 L304.7,533.3 L308.0,533.9 L310.9,535.8 M326.1,491.7 L328.2,494.8 L328.3,498.6 L330.2,501.8 M309.3,573.6 L311.4,570.9 L313.1,568.1 L313.9,564.9 L313.9,561.4 L315.1,558.3 L315.6,555.0 L318.1,552.4 L319.1,549.3 M358.8,583.7 L357.4,581.0 L356.1,578.2 L356.3,574.9 L354.5,572.4 L354.5,569.1 L352.8,566.5 L352.2,563.5 L350.2,561.0 L350.3,557.7 L348.9,555.0 L347.6,552.2 L346.9,549.3 M392.4,563.6 L391.4,560.3 L390.1,557.2 L388.1,554.3 L386.2,551.4 L385.4,548.1 L384.5,544.8 M384.5,544.8 L381.3,544.8 L378.8,542.6 L375.8,542.1 L372.7,541.7 L369.9,540.8 L366.8,540.3 L364.0,539.1 L361.3,537.6 L358.6,536.1 M374.5,502.4 L377.6,503.4 L380.7,504.3 L383.9,505.2 L386.8,506.6 L389.5,508.5 L392.7,509.4 L395.5,511.1 L398.6,512.0 L402.0,512.2 L405.1,513.2 L407.8,515.2 M384.5,544.8 L386.9,542.7 L388.7,540.1 L390.3,537.4 L392.3,534.9 L394.8,532.9 L396.3,530.1 L397.9,527.4 L399.7,524.8 L401.0,521.8 L403.5,519.7 L405.7,517.5 L407.8,515.2 M374.5,502.4 L372.0,504.3 L369.6,506.3 L367.1,508.3 L364.3,509.8 L362.4,512.4 L359.1,513.4 L357.1,516.0 M373.9,471.8 L374.7,474.9 L373.7,477.9 L374.6,481.0 L373.8,484.0 L374.5,487.1 L375.4,490.1 L374.8,493.2 L373.9,496.3 L373.5,499.3 L374.5,502.4 M435.5,491.7 L434.6,488.6 L433.9,485.4 L430.9,483.3 L429.3,480.6 L427.1,478.1 L426.6,474.8 L425.0,472.0 L424.0,468.9 L422.9,465.9 L422.1,462.8 L420.0,460.3 L417.7,457.9 M435.5,491.7 L432.9,493.6 L431.0,496.1 L429.9,499.3 L427.0,501.0 L425.8,504.1 L424.3,506.9 L421.3,508.5 L419.6,511.2 L417.3,513.3 M417.3,513.3 L417.0,513.3 M417.0,513.3 L415.8,510.5 L413.5,508.3 L411.9,505.8 L411.4,502.7 L409.1,500.4 L408.2,497.5 L407.9,494.3 L405.7,492.0 L404.8,489.1 L403.8,486.3 L402.4,483.6 L401.3,480.8 L399.9,478.1 L397.2,476.1 L395.4,473.7 L394.5,470.8 L394.2,467.5 L392.0,465.3 L390.8,462.5 L389.4,459.9 M389.4,459.9 L392.5,458.8 L395.7,459.8 L398.8,459.3 L402.0,459.1 L405.1,459.2 L408.2,458.0 L411.4,458.5 L414.6,458.9 L417.7,457.9 M458.9,486.9 L455.4,486.9 L452.3,488.3 L449.0,489.6 L445.8,490.7 L442.1,490.1 L438.9,491.0 L435.5,491.7 M432.1,442.5 L430.2,444.8 L428.1,446.9 L425.6,448.8 L424.0,451.4 L422.1,453.8 L419.5,455.5 L417.7,457.9 M421.6,519.8 L419.9,516.2 L417.3,513.3 M407.8,515.2 L410.8,514.1 L413.7,512.8 L417.0,513.3 M386.9,459.2 L389.4,459.9" fill="none" stroke="#fff" stroke-width="1.15" stroke-linejoin="round"/>
<path d="M318,308 L320,305.5 L323,305 L325.5,306 L328,304.8 L330.6,305.5 L330.4,310 L330,314 L330.6,318.6 L327,318 L323,317.5 L320,317 L317.5,314.5 L317.3,311Z" fill="#858689" stroke="#fff" stroke-width="0.7"/>
<ellipse cx="322.5" cy="310.9" rx="2.6" ry="2.1" fill="#858689" stroke="#fff" stroke-width="0.8"/>
<path d="M323.4,305.2 V308.8 M322.9,313 V318 M325.1,311.3 L330.6,310.9" stroke="#fff" stroke-width="0.8" fill="none"/>
<path d="M487,158 L490,147 L497,139 L506,132 L515,126.5 L526,123 L538,125 L549,123 L560,121 L566,117 L570,110 L574,109.5 L576,114 L575.5,123 L576.5,132 L579,141 L578,150 L576,160 L577,170 L577,178 L578,188 L575.5,199 L572,208 L565,210.5 L558,209 L550,209.5 L545,205 L535,204 L522,206 L512,198 L505,192 L500,186 L493,178 L488,168Z" fill="#dcdddf"/>
<path d="M213.4,403.5 V437.8 H205.5" fill="none" stroke="#333" stroke-width="0.8"/>
<path d="M393.2,477.1 V488.9 H400.9" fill="none" stroke="#333" stroke-width="0.8"/>
<circle cx="350.4" cy="209.9" r="10.60" fill="#f7941e" stroke="#fff" stroke-width="1.3"/>
<circle cx="241.5" cy="275.8" r="8.80" fill="#fec907" stroke="#fff" stroke-width="1.3"/>
<circle cx="271.1" cy="285.3" r="10.60" fill="#f7941e" stroke="#fff" stroke-width="1.3"/>
<circle cx="231.7" cy="294.8" r="10.60" fill="#f7941e" stroke="#fff" stroke-width="1.3"/>
<circle cx="62.6" cy="326.3" r="10.60" fill="#f7941e" stroke="#fff" stroke-width="1.3"/>
<circle cx="383.2" cy="291.7" r="10.60" fill="#f7941e" stroke="#fff" stroke-width="1.3"/>
<circle cx="467.2" cy="292.1" r="10.60" fill="#f7941e" stroke="#fff" stroke-width="1.3"/>
<circle cx="520.9" cy="311.9" r="13.10" fill="#ed1c24" stroke="#fff" stroke-width="1.3"/>
<circle cx="173.6" cy="351.1" r="16.60" fill="#8b0304" stroke="#fff" stroke-width="1.3"/>
<circle cx="242.3" cy="358.9" r="8.80" fill="#fec907" stroke="#fff" stroke-width="1.3"/>
<circle cx="307.2" cy="367.7" r="10.60" fill="#f7941e" stroke="#fff" stroke-width="1.3"/>
<circle cx="257.4" cy="393.6" r="10.60" fill="#f7941e" stroke="#fff" stroke-width="1.3"/>
<circle cx="179.3" cy="400.4" r="16.60" fill="#8b0304" stroke="#fff" stroke-width="1.3"/>
<circle cx="214.5" cy="391.3" r="13.10" fill="#ed1c24" stroke="#fff" stroke-width="1.3"/>
<circle cx="512.3" cy="369" r="10.60" fill="#f7941e" stroke="#fff" stroke-width="1.3"/>
<circle cx="425.5" cy="398.6" r="10.60" fill="#f7941e" stroke="#fff" stroke-width="1.3"/>
<circle cx="466.0" cy="396.2" r="10.60" fill="#f7941e" stroke="#fff" stroke-width="1.3"/>
<circle cx="359.8" cy="450" r="10.60" fill="#f7941e" stroke="#fff" stroke-width="1.3"/>
<circle cx="278.4" cy="487" r="9.00" fill="#fec907" stroke="#fff" stroke-width="1.3"/>
<circle cx="434" cy="485.5" r="13.10" fill="#ed1c24" stroke="#fff" stroke-width="1.3"/>
<circle cx="419.4" cy="490.7" r="16.80" fill="#8b0304" stroke="#fff" stroke-width="1.3"/>
<circle cx="403.5" cy="504.3" r="9.00" fill="#fec907" stroke="#fff" stroke-width="1.3"/>
<circle cx="456" cy="514" r="9.00" fill="#fec907" stroke="#fff" stroke-width="1.3"/>
<circle cx="205.8" cy="529.6" r="16.10" fill="#8b0304" stroke="#fff" stroke-width="1.3"/>
<circle cx="286.7" cy="612.9" r="13.10" fill="#ed1c24" stroke="#fff" stroke-width="1.3"/>
<circle cx="406.4" cy="595" r="8.80" fill="#fec907" stroke="#fff" stroke-width="1.3"/>
<circle cx="379" cy="612.4" r="10.60" fill="#f7941e" stroke="#fff" stroke-width="1.3"/>
<circle cx="453.5" cy="615.5" r="10.60" fill="#f7941e" stroke="#fff" stroke-width="1.3"/>
<circle cx="449.1" cy="623" r="10.60" fill="#f7941e" stroke="#fff" stroke-width="1.3"/>
<circle cx="471.8" cy="634.6" r="10.60" fill="#f7941e" stroke="#fff" stroke-width="1.3"/>
<circle cx="526.1" cy="599.9" r="10.60" fill="#f7941e" stroke="#fff" stroke-width="1.3"/>
<circle cx="347" cy="659.8" r="8.80" fill="#fec907" stroke="#fff" stroke-width="1.3"/>
<circle cx="525" cy="139.4" r="13.10" fill="#ed1c24" stroke="#fff" stroke-width="1.3"/>
<circle cx="501" cy="163.5" r="16.10" fill="#8b0304" stroke="#fff" stroke-width="1.3"/>
<circle cx="545" cy="159.1" r="16.40" fill="#8b0304" stroke="#fff" stroke-width="1.3"/>
<circle cx="522.9" cy="158.8" r="16.90" fill="#8b0304" stroke="#fff" stroke-width="1.3"/>
<circle cx="20.6" cy="482.2" r="8.4" fill="#fec907"/>
<circle cx="22.3" cy="507.4" r="10" fill="#f7941e"/>
<circle cx="24.9" cy="537" r="12.7" fill="#ed1c24"/>
<circle cx="28.5" cy="572.6" r="16.3" fill="#8b0304"/>
<rect x="578.6" y="14.8" width="30.5" height="28.3" fill="#3592d3"/>
<rect x="578.6" y="43.6" width="30.5" height="1.6" fill="#e8262c"/>
<path d="M589.1,17.4 L595,17.4 C599,17.4 600.6,20.5 600.6,25 C600.6,30 598.5,32.9 594.5,32.9 L593.4,32.9 L593.4,43.1 L589.1,43.1 Z M593.4,20.9 L593.4,29.9 C595.3,29.9 596.2,28 596.2,25.3 C596.2,22.5 595.3,20.9 593.4,20.9 Z" fill="#fff" fill-rule="evenodd"/>














<text x="312.4" y="203.5" font-size="20" font-weight="bold" fill="none" stroke="#fff" stroke-width="3.2" stroke-opacity="0.5" stroke-linejoin="round" textLength="22.4" lengthAdjust="spacingAndGlyphs">35</text>
<text x="312.1" y="223.4" font-size="20" font-weight="bold" fill="none" stroke="#fff" stroke-width="3.2" stroke-opacity="0.5" stroke-linejoin="round" textLength="25.1" lengthAdjust="spacingAndGlyphs">Lille</text>
<text x="229.5" y="244.4" font-size="20" font-weight="bold" fill="none" stroke="#fff" stroke-width="3.2" stroke-opacity="0.5" stroke-linejoin="round" textLength="20.5" lengthAdjust="spacingAndGlyphs">18</text>
<text x="215.2" y="263.2" font-size="20" font-weight="bold" fill="none" stroke="#fff" stroke-width="3.2" stroke-opacity="0.5" stroke-linejoin="round" textLength="50.1" lengthAdjust="spacingAndGlyphs">Le Havre</text>
<text x="186.7" y="289.5" font-size="20" font-weight="bold" fill="none" stroke="#fff" stroke-width="3.2" stroke-opacity="0.5" stroke-linejoin="round" textLength="29.2" lengthAdjust="spacingAndGlyphs">Caen</text>
<text x="190.3" y="307.5" font-size="20" font-weight="bold" fill="none" stroke="#fff" stroke-width="3.2" stroke-opacity="0.5" stroke-linejoin="round" textLength="22.0" lengthAdjust="spacingAndGlyphs">34</text>
<text x="287.0" y="271.4" font-size="20" font-weight="bold" fill="none" stroke="#fff" stroke-width="3.2" stroke-opacity="0.5" stroke-linejoin="round" textLength="22.8" lengthAdjust="spacingAndGlyphs">36</text>
<text x="286.0" y="290.7" font-size="20" font-weight="bold" fill="none" stroke="#fff" stroke-width="3.2" stroke-opacity="0.5" stroke-linejoin="round" textLength="38.8" lengthAdjust="spacingAndGlyphs">Rouen</text>
<text x="52.2" y="290.4" font-size="20" font-weight="bold" fill="none" stroke="#fff" stroke-width="3.2" stroke-opacity="0.5" stroke-linejoin="round" textLength="22.6" lengthAdjust="spacingAndGlyphs">25</text>
<text x="46.9" y="308.1" font-size="20" font-weight="bold" fill="none" stroke="#fff" stroke-width="3.2" stroke-opacity="0.5" stroke-linejoin="round" textLength="30.5" lengthAdjust="spacingAndGlyphs">Brest</text>
<text x="393.3" y="291.7" font-size="20" font-weight="bold" fill="none" stroke="#fff" stroke-width="3.2" stroke-opacity="0.5" stroke-linejoin="round" textLength="22.6" lengthAdjust="spacingAndGlyphs">23</text>
<text x="396.6" y="310.2" font-size="20" font-weight="bold" fill="none" stroke="#fff" stroke-width="3.2" stroke-opacity="0.5" stroke-linejoin="round" textLength="36.4" lengthAdjust="spacingAndGlyphs">Reims</text>
<text x="456.0" y="257.8" font-size="20" font-weight="bold" fill="none" stroke="#fff" stroke-width="3.2" stroke-opacity="0.5" stroke-linejoin="round" textLength="24.5" lengthAdjust="spacingAndGlyphs">30</text>
<text x="452.9" y="276.3" font-size="20" font-weight="bold" fill="none" stroke="#fff" stroke-width="3.2" stroke-opacity="0.5" stroke-linejoin="round" textLength="30.3" lengthAdjust="spacingAndGlyphs">Metz</text>
<text x="540.1" y="315.6" font-size="20" font-weight="bold" fill="none" stroke="#fff" stroke-width="3.2" stroke-opacity="0.5" stroke-linejoin="round" textLength="29.0" lengthAdjust="spacingAndGlyphs">110</text>
<text x="538.5" y="334.5" font-size="20" font-weight="bold" fill="none" stroke="#fff" stroke-width="3.2" stroke-opacity="0.5" stroke-linejoin="round" textLength="65.6" lengthAdjust="spacingAndGlyphs">Strasbourg</text>
<text x="113.9" y="340.9" font-size="20" font-weight="bold" fill="none" stroke="#fff" stroke-width="3.2" stroke-opacity="0.5" stroke-linejoin="round" textLength="43.7" lengthAdjust="spacingAndGlyphs">Rennes</text>
<text x="119.4" y="359.4" font-size="20" font-weight="bold" fill="none" stroke="#fff" stroke-width="3.2" stroke-opacity="0.5" stroke-linejoin="round" textLength="30.9" lengthAdjust="spacingAndGlyphs">132</text>
<text x="232.1" y="329.8" font-size="20" font-weight="bold" fill="none" stroke="#fff" stroke-width="3.2" stroke-opacity="0.5" stroke-linejoin="round" textLength="20.7" lengthAdjust="spacingAndGlyphs">14</text>
<text x="221.3" y="347" font-size="20" font-weight="bold" fill="none" stroke="#fff" stroke-width="3.2" stroke-opacity="0.5" stroke-linejoin="round" textLength="46.6" lengthAdjust="spacingAndGlyphs">Le Mans</text>
<text x="320.7" y="374.1" font-size="20" font-weight="bold" fill="none" stroke="#fff" stroke-width="3.2" stroke-opacity="0.5" stroke-linejoin="round" textLength="23.3" lengthAdjust="spacingAndGlyphs">25</text>
<text x="348.9" y="374.1" font-size="20" font-weight="bold" fill="none" stroke="#fff" stroke-width="3.2" stroke-opacity="0.5" stroke-linejoin="round" textLength="45.6" lengthAdjust="spacingAndGlyphs">Orléans</text>
<text x="270.7" y="391" font-size="20" font-weight="bold" fill="none" stroke="#fff" stroke-width="3.2" stroke-opacity="0.5" stroke-linejoin="round" textLength="32.6" lengthAdjust="spacingAndGlyphs">Tours</text>
<text x="270.1" y="407.9" font-size="20" font-weight="bold" fill="none" stroke="#fff" stroke-width="3.2" stroke-opacity="0.5" stroke-linejoin="round" textLength="23.4" lengthAdjust="spacingAndGlyphs">24</text>
<text x="115.2" y="395.7" font-size="20" font-weight="bold" fill="none" stroke="#fff" stroke-width="3.2" stroke-opacity="0.5" stroke-linejoin="round" textLength="41.4" lengthAdjust="spacingAndGlyphs">Nantes</text>
<text x="115.4" y="413.7" font-size="20" font-weight="bold" fill="none" stroke="#fff" stroke-width="3.2" stroke-opacity="0.5" stroke-linejoin="round" textLength="31.1" lengthAdjust="spacingAndGlyphs">216</text>
<text x="128.0" y="443.8" font-size="20" font-weight="bold" fill="none" stroke="#fff" stroke-width="3.2" stroke-opacity="0.5" stroke-linejoin="round" textLength="41.4" lengthAdjust="spacingAndGlyphs">Angers</text>
<text x="173.6" y="444.3" font-size="20" font-weight="bold" fill="none" stroke="#fff" stroke-width="3.2" stroke-opacity="0.5" stroke-linejoin="round" textLength="27.3" lengthAdjust="spacingAndGlyphs">114</text>
<text x="527.1" y="369.9" font-size="20" font-weight="bold" fill="none" stroke="#fff" stroke-width="3.2" stroke-opacity="0.5" stroke-linejoin="round" textLength="24.6" lengthAdjust="spacingAndGlyphs">20</text>
<text x="527.6" y="387" font-size="20" font-weight="bold" fill="none" stroke="#fff" stroke-width="3.2" stroke-opacity="0.5" stroke-linejoin="round" textLength="57.4" lengthAdjust="spacingAndGlyphs">Mulhouse</text>
<text x="391.6" y="397.1" font-size="20" font-weight="bold" fill="none" stroke="#fff" stroke-width="3.2" stroke-opacity="0.5" stroke-linejoin="round" textLength="22.8" lengthAdjust="spacingAndGlyphs">24</text>
<text x="380.6" y="416.3" font-size="20" font-weight="bold" fill="none" stroke="#fff" stroke-width="3.2" stroke-opacity="0.5" stroke-linejoin="round" textLength="32.8" lengthAdjust="spacingAndGlyphs">Dijon</text>
<text x="481.6" y="403.7" font-size="20" font-weight="bold" fill="none" stroke="#fff" stroke-width="3.2" stroke-opacity="0.5" stroke-linejoin="round" textLength="21.3" lengthAdjust="spacingAndGlyphs">25</text>
<text x="480.3" y="420.1" font-size="20" font-weight="bold" fill="none" stroke="#fff" stroke-width="3.2" stroke-opacity="0.5" stroke-linejoin="round" textLength="56.3" lengthAdjust="spacingAndGlyphs">Besançon</text>
<text x="310.9" y="445.7" font-size="20" font-weight="bold" fill="none" stroke="#fff" stroke-width="3.2" stroke-opacity="0.5" stroke-linejoin="round" textLength="22.7" lengthAdjust="spacingAndGlyphs">24</text>
<text x="287.7" y="463" font-size="20" font-weight="bold" fill="none" stroke="#fff" stroke-width="3.2" stroke-opacity="0.5" stroke-linejoin="round" textLength="61.8" lengthAdjust="spacingAndGlyphs">Clermont-</text>
<text x="295.1" y="481.7" font-size="20" font-weight="bold" fill="none" stroke="#fff" stroke-width="3.2" stroke-opacity="0.5" stroke-linejoin="round" textLength="47.4" lengthAdjust="spacingAndGlyphs">Ferrand</text>
<text x="383.7" y="454.7" font-size="20" font-weight="bold" fill="none" stroke="#fff" stroke-width="3.2" stroke-opacity="0.5" stroke-linejoin="round" textLength="33.3" lengthAdjust="spacingAndGlyphs">336</text>
<text x="383.4" y="470.9" font-size="20" font-weight="bold" fill="none" stroke="#fff" stroke-width="3.2" stroke-opacity="0.5" stroke-linejoin="round" textLength="28.5" lengthAdjust="spacingAndGlyphs">Lyon</text>
<text x="452.7" y="490.9" font-size="20" font-weight="bold" fill="none" stroke="#fff" stroke-width="3.2" stroke-opacity="0.5" stroke-linejoin="round" textLength="24.0" lengthAdjust="spacingAndGlyphs">66</text>
<text x="479.6" y="490.9" font-size="20" font-weight="bold" fill="none" stroke="#fff" stroke-width="3.2" stroke-opacity="0.5" stroke-linejoin="round" textLength="75.1" lengthAdjust="spacingAndGlyphs">Villeurbanne</text>
<text x="471.5" y="512.2" font-size="20" font-weight="bold" fill="none" stroke="#fff" stroke-width="3.2" stroke-opacity="0.5" stroke-linejoin="round" textLength="54.4" lengthAdjust="spacingAndGlyphs">Grenoble</text>
<text x="529.2" y="512.2" font-size="20" font-weight="bold" fill="none" stroke="#fff" stroke-width="3.2" stroke-opacity="0.5" stroke-linejoin="round" textLength="20.5" lengthAdjust="spacingAndGlyphs">18</text>
<text x="311.2" y="528" font-size="20" font-weight="bold" fill="none" stroke="#fff" stroke-width="3.2" stroke-opacity="0.5" stroke-linejoin="round" textLength="82.4" lengthAdjust="spacingAndGlyphs">Saint-Étienne</text>
<text x="393.8" y="528" font-size="20" font-weight="bold" fill="none" stroke="#fff" stroke-width="3.2" stroke-opacity="0.5" stroke-linejoin="round" textLength="20.5" lengthAdjust="spacingAndGlyphs">18</text>
<text x="230.6" y="477" font-size="20" font-weight="bold" fill="none" stroke="#fff" stroke-width="3.2" stroke-opacity="0.5" stroke-linejoin="round" textLength="20.4" lengthAdjust="spacingAndGlyphs">18</text>
<text x="216.2" y="491.5" font-size="20" font-weight="bold" fill="none" stroke="#fff" stroke-width="3.2" stroke-opacity="0.5" stroke-linejoin="round" textLength="50.3" lengthAdjust="spacingAndGlyphs">Limoges</text>
<text x="228.1" y="532.6" font-size="20" font-weight="bold" fill="none" stroke="#fff" stroke-width="3.2" stroke-opacity="0.5" stroke-linejoin="round" textLength="56.9" lengthAdjust="spacingAndGlyphs">Bordeaux</text>
<text x="228.3" y="550.3" font-size="20" font-weight="bold" fill="none" stroke="#fff" stroke-width="3.2" stroke-opacity="0.5" stroke-linejoin="round" textLength="30.7" lengthAdjust="spacingAndGlyphs">216</text>
<text x="220.9" y="602.9" font-size="20" font-weight="bold" fill="none" stroke="#fff" stroke-width="3.2" stroke-opacity="0.5" stroke-linejoin="round" textLength="52.4" lengthAdjust="spacingAndGlyphs">Toulouse</text>
<text x="244.3" y="620.7" font-size="20" font-weight="bold" fill="none" stroke="#fff" stroke-width="3.2" stroke-opacity="0.5" stroke-linejoin="round" textLength="22.7" lengthAdjust="spacingAndGlyphs">67</text>
<text x="305.6" y="599.6" font-size="20" font-weight="bold" fill="none" stroke="#fff" stroke-width="3.2" stroke-opacity="0.5" stroke-linejoin="round" textLength="68.0" lengthAdjust="spacingAndGlyphs">Montpellier</text>
<text x="342.7" y="617.4" font-size="20" font-weight="bold" fill="none" stroke="#fff" stroke-width="3.2" stroke-opacity="0.5" stroke-linejoin="round" textLength="22.7" lengthAdjust="spacingAndGlyphs">24</text>
<text x="270.6" y="665.2" font-size="20" font-weight="bold" fill="none" stroke="#fff" stroke-width="3.2" stroke-opacity="0.5" stroke-linejoin="round" textLength="62.7" lengthAdjust="spacingAndGlyphs">Perpignan</text>
<text x="316.3" y="686.3" font-size="20" font-weight="bold" fill="none" stroke="#fff" stroke-width="3.2" stroke-opacity="0.5" stroke-linejoin="round" textLength="21.1" lengthAdjust="spacingAndGlyphs">10</text>
<text x="396.3" y="564.6" font-size="20" font-weight="bold" fill="none" stroke="#fff" stroke-width="3.2" stroke-opacity="0.5" stroke-linejoin="round" textLength="19.7" lengthAdjust="spacingAndGlyphs">16</text>
<text x="387.9" y="582" font-size="20" font-weight="bold" fill="none" stroke="#fff" stroke-width="3.2" stroke-opacity="0.5" stroke-linejoin="round" textLength="37.4" lengthAdjust="spacingAndGlyphs">Nîmes</text>
<text x="448.9" y="584.8" font-size="20" font-weight="bold" fill="none" stroke="#fff" stroke-width="3.2" stroke-opacity="0.5" stroke-linejoin="round" textLength="24.0" lengthAdjust="spacingAndGlyphs">30</text>
<text x="433.2" y="599.3" font-size="20" font-weight="bold" fill="none" stroke="#fff" stroke-width="3.2" stroke-opacity="0.5" stroke-linejoin="round" textLength="56.2" lengthAdjust="spacingAndGlyphs">Aix-en-P.</text>
<text x="393.7" y="649.4" font-size="20" font-weight="bold" fill="none" stroke="#fff" stroke-width="3.2" stroke-opacity="0.5" stroke-linejoin="round" textLength="52.7" lengthAdjust="spacingAndGlyphs">Marseille</text>
<text x="423.1" y="668.8" font-size="20" font-weight="bold" fill="none" stroke="#fff" stroke-width="3.2" stroke-opacity="0.5" stroke-linejoin="round" textLength="23.8" lengthAdjust="spacingAndGlyphs">42</text>
<text x="486.4" y="644.2" font-size="20" font-weight="bold" fill="none" stroke="#fff" stroke-width="3.2" stroke-opacity="0.5" stroke-linejoin="round" textLength="39.1" lengthAdjust="spacingAndGlyphs">Toulon</text>
<text x="487.8" y="663" font-size="20" font-weight="bold" fill="none" stroke="#fff" stroke-width="3.2" stroke-opacity="0.5" stroke-linejoin="round" textLength="22.5" lengthAdjust="spacingAndGlyphs">24</text>
<text x="542.8" y="594.2" font-size="20" font-weight="bold" fill="none" stroke="#fff" stroke-width="3.2" stroke-opacity="0.5" stroke-linejoin="round" textLength="22.1" lengthAdjust="spacingAndGlyphs">37</text>
<text x="543.2" y="612.5" font-size="20" font-weight="bold" fill="none" stroke="#fff" stroke-width="3.2" stroke-opacity="0.5" stroke-linejoin="round" textLength="26.3" lengthAdjust="spacingAndGlyphs">Nice</text>
<text x="515.1" y="100" font-size="20" font-weight="bold" fill="none" stroke="#fff" stroke-width="3.2" stroke-opacity="0.5" stroke-linejoin="round" textLength="23.5" lengthAdjust="spacingAndGlyphs">54</text>
<text x="496.5" y="118.4" font-size="20" font-weight="bold" fill="none" stroke="#fff" stroke-width="3.2" stroke-opacity="0.5" stroke-linejoin="round" textLength="69.8" lengthAdjust="spacingAndGlyphs">Saint-Denis</text>
<text x="404.1" y="171.5" font-size="20" font-weight="bold" fill="none" stroke="#fff" stroke-width="3.2" stroke-opacity="0.5" stroke-linejoin="round" textLength="75.6" lengthAdjust="spacingAndGlyphs">Boulogne-B.</text>
<text x="454.1" y="193.2" font-size="20" font-weight="bold" fill="none" stroke="#fff" stroke-width="3.2" stroke-opacity="0.5" stroke-linejoin="round" textLength="31.7" lengthAdjust="spacingAndGlyphs">192</text>
<text x="559.2" y="155.3" font-size="20" font-weight="bold" fill="none" stroke="#fff" stroke-width="3.2" stroke-opacity="0.5" stroke-linejoin="round" textLength="31.8" lengthAdjust="spacingAndGlyphs">192</text>
<text x="560.0" y="175.3" font-size="20" font-weight="bold" fill="none" stroke="#fff" stroke-width="3.2" stroke-opacity="0.5" stroke-linejoin="round" textLength="57.5" lengthAdjust="spacingAndGlyphs">Montreuil</text>
<text x="513.2" y="192.9" font-size="20" font-weight="bold" fill="none" stroke="#fff" stroke-width="3.2" stroke-opacity="0.5" stroke-linejoin="round" textLength="36.3" lengthAdjust="spacingAndGlyphs">240</text>
<text x="516.9" y="210.3" font-size="20" font-weight="bold" fill="none" stroke="#fff" stroke-width="3.2" stroke-opacity="0.5" stroke-linejoin="round" textLength="29.4" lengthAdjust="spacingAndGlyphs">Paris</text>






<text x="18.2" y="43.5" font-size="34" font-weight="bold" fill="#111" stroke="#111" stroke-width="1.3" textLength="107.1" lengthAdjust="spacingAndGlyphs">Combien</text>
<text x="128.6" y="43.5" font-size="34" font-weight="bold" fill="#111" stroke="#111" stroke-width="1.3" textLength="28.1" lengthAdjust="spacingAndGlyphs">de</text>
<text x="161.9" y="43.5" font-size="34" font-weight="bold" fill="#111" stroke="#111" stroke-width="1.3" textLength="76.2" lengthAdjust="spacingAndGlyphs">temps</text>
<text x="241.4" y="43.5" font-size="34" font-weight="bold" fill="#111" stroke="#111" stroke-width="1.3" textLength="55.0" lengthAdjust="spacingAndGlyphs">pour</text>
<text x="300.0" y="43.5" font-size="34" font-weight="bold" fill="#111" stroke="#111" stroke-width="1.3" textLength="138.6" lengthAdjust="spacingAndGlyphs">rentabiliser</text>
<text x="443.9" y="43.5" font-size="34" font-weight="bold" fill="#111" stroke="#111" stroke-width="1.3" textLength="81.4" lengthAdjust="spacingAndGlyphs">l’achat</text>
<text x="18.5" y="77.5" font-size="34" font-weight="bold" fill="#111" stroke="#111" stroke-width="1.3" textLength="30.2" lengthAdjust="spacingAndGlyphs">de</text>
<text x="52.8" y="77.5" font-size="34" font-weight="bold" fill="#111" stroke="#111" stroke-width="1.3" textLength="25.0" lengthAdjust="spacingAndGlyphs">sa</text>
<text x="82.8" y="77.5" font-size="34" font-weight="bold" fill="#111" stroke="#111" stroke-width="1.3" textLength="118.9" lengthAdjust="spacingAndGlyphs">résidence</text>
<text x="206.9" y="77.5" font-size="34" font-weight="bold" fill="#111" stroke="#111" stroke-width="1.3" textLength="119.5" lengthAdjust="spacingAndGlyphs">principale</text>
<text x="18.4" y="110.3" font-size="19.6" font-weight="bold" fill="#5b5c5e" textLength="374.7" lengthAdjust="spacingAndGlyphs">Délai de détention moyen nécessaire pour</text>
<text x="18.8" y="131" font-size="19.6" font-weight="bold" fill="#5b5c5e" textLength="391.0" lengthAdjust="spacingAndGlyphs">que l’achat coûte moins cher que la location</text>
<text x="18.8" y="152.9" font-size="19.6" font-weight="normal" fill="#5b5c5e" textLength="267.8" lengthAdjust="spacingAndGlyphs">en 2021 pour un bien de 70 m²,</text>
<text x="18.8" y="173.5" font-size="19.6" font-weight="normal" fill="#5b5c5e" textLength="66.3" lengthAdjust="spacingAndGlyphs">en mois</text>
<text x="312.4" y="203.5" font-size="20" font-weight="bold" fill="#ec8a1c" stroke="#ec8a1c" stroke-width="1.0" textLength="22.4" lengthAdjust="spacingAndGlyphs">35</text>
<text x="312.1" y="223.4" font-size="20" font-weight="bold" fill="#161616" stroke="#161616" stroke-width="0.95" textLength="25.1" lengthAdjust="spacingAndGlyphs">Lille</text>
<text x="229.5" y="244.4" font-size="20" font-weight="bold" fill="#efbb0a" stroke="#efbb0a" stroke-width="1.0" textLength="20.5" lengthAdjust="spacingAndGlyphs">18</text>
<text x="215.2" y="263.2" font-size="20" font-weight="bold" fill="#161616" stroke="#161616" stroke-width="0.95" textLength="50.1" lengthAdjust="spacingAndGlyphs">Le Havre</text>
<text x="186.7" y="289.5" font-size="20" font-weight="bold" fill="#161616" stroke="#161616" stroke-width="0.95" textLength="29.2" lengthAdjust="spacingAndGlyphs">Caen</text>
<text x="190.3" y="307.5" font-size="20" font-weight="bold" fill="#ec8a1c" stroke="#ec8a1c" stroke-width="1.0" textLength="22.0" lengthAdjust="spacingAndGlyphs">34</text>
<text x="287.0" y="271.4" font-size="20" font-weight="bold" fill="#ec8a1c" stroke="#ec8a1c" stroke-width="1.0" textLength="22.8" lengthAdjust="spacingAndGlyphs">36</text>
<text x="286.0" y="290.7" font-size="20" font-weight="bold" fill="#161616" stroke="#161616" stroke-width="0.95" textLength="38.8" lengthAdjust="spacingAndGlyphs">Rouen</text>
<text x="52.2" y="290.4" font-size="20" font-weight="bold" fill="#ec8a1c" stroke="#ec8a1c" stroke-width="1.0" textLength="22.6" lengthAdjust="spacingAndGlyphs">25</text>
<text x="46.9" y="308.1" font-size="20" font-weight="bold" fill="#161616" stroke="#161616" stroke-width="0.95" textLength="30.5" lengthAdjust="spacingAndGlyphs">Brest</text>
<text x="393.3" y="291.7" font-size="20" font-weight="bold" fill="#ec8a1c" stroke="#ec8a1c" stroke-width="1.0" textLength="22.6" lengthAdjust="spacingAndGlyphs">23</text>
<text x="396.6" y="310.2" font-size="20" font-weight="bold" fill="#161616" stroke="#161616" stroke-width="0.95" textLength="36.4" lengthAdjust="spacingAndGlyphs">Reims</text>
<text x="456.0" y="257.8" font-size="20" font-weight="bold" fill="#ec8a1c" stroke="#ec8a1c" stroke-width="1.0" textLength="24.5" lengthAdjust="spacingAndGlyphs">30</text>
<text x="452.9" y="276.3" font-size="20" font-weight="bold" fill="#161616" stroke="#161616" stroke-width="0.95" textLength="30.3" lengthAdjust="spacingAndGlyphs">Metz</text>
<text x="540.1" y="315.6" font-size="20" font-weight="bold" fill="#ec1c24" stroke="#ec1c24" stroke-width="1.0" textLength="29.0" lengthAdjust="spacingAndGlyphs">110</text>
<text x="538.5" y="334.5" font-size="20" font-weight="bold" fill="#161616" stroke="#161616" stroke-width="0.95" textLength="65.6" lengthAdjust="spacingAndGlyphs">Strasbourg</text>
<text x="113.9" y="340.9" font-size="20" font-weight="bold" fill="#161616" stroke="#161616" stroke-width="0.95" textLength="43.7" lengthAdjust="spacingAndGlyphs">Rennes</text>
<text x="119.4" y="359.4" font-size="20" font-weight="bold" fill="#8b0b0e" stroke="#8b0b0e" stroke-width="1.0" textLength="30.9" lengthAdjust="spacingAndGlyphs">132</text>
<text x="232.1" y="329.8" font-size="20" font-weight="bold" fill="#efbb0a" stroke="#efbb0a" stroke-width="1.0" textLength="20.7" lengthAdjust="spacingAndGlyphs">14</text>
<text x="221.3" y="347" font-size="20" font-weight="bold" fill="#161616" stroke="#161616" stroke-width="0.95" textLength="46.6" lengthAdjust="spacingAndGlyphs">Le Mans</text>
<text x="320.7" y="374.1" font-size="20" font-weight="bold" fill="#ec8a1c" stroke="#ec8a1c" stroke-width="1.0" textLength="23.3" lengthAdjust="spacingAndGlyphs">25</text>
<text x="348.9" y="374.1" font-size="20" font-weight="bold" fill="#161616" stroke="#161616" stroke-width="0.95" textLength="45.6" lengthAdjust="spacingAndGlyphs">Orléans</text>
<text x="270.7" y="391" font-size="20" font-weight="bold" fill="#161616" stroke="#161616" stroke-width="0.95" textLength="32.6" lengthAdjust="spacingAndGlyphs">Tours</text>
<text x="270.1" y="407.9" font-size="20" font-weight="bold" fill="#ec8a1c" stroke="#ec8a1c" stroke-width="1.0" textLength="23.4" lengthAdjust="spacingAndGlyphs">24</text>
<text x="115.2" y="395.7" font-size="20" font-weight="bold" fill="#161616" stroke="#161616" stroke-width="0.95" textLength="41.4" lengthAdjust="spacingAndGlyphs">Nantes</text>
<text x="115.4" y="413.7" font-size="20" font-weight="bold" fill="#8b0b0e" stroke="#8b0b0e" stroke-width="1.0" textLength="31.1" lengthAdjust="spacingAndGlyphs">216</text>
<text x="128.0" y="443.8" font-size="20" font-weight="bold" fill="#161616" stroke="#161616" stroke-width="0.95" textLength="41.4" lengthAdjust="spacingAndGlyphs">Angers</text>
<text x="173.6" y="444.3" font-size="20" font-weight="bold" fill="#ec1c24" stroke="#ec1c24" stroke-width="1.0" textLength="27.3" lengthAdjust="spacingAndGlyphs">114</text>
<text x="527.1" y="369.9" font-size="20" font-weight="bold" fill="#ec8a1c" stroke="#ec8a1c" stroke-width="1.0" textLength="24.6" lengthAdjust="spacingAndGlyphs">20</text>
<text x="527.6" y="387" font-size="20" font-weight="bold" fill="#161616" stroke="#161616" stroke-width="0.95" textLength="57.4" lengthAdjust="spacingAndGlyphs">Mulhouse</text>
<text x="391.6" y="397.1" font-size="20" font-weight="bold" fill="#ec8a1c" stroke="#ec8a1c" stroke-width="1.0" textLength="22.8" lengthAdjust="spacingAndGlyphs">24</text>
<text x="380.6" y="416.3" font-size="20" font-weight="bold" fill="#161616" stroke="#161616" stroke-width="0.95" textLength="32.8" lengthAdjust="spacingAndGlyphs">Dijon</text>
<text x="481.6" y="403.7" font-size="20" font-weight="bold" fill="#ec8a1c" stroke="#ec8a1c" stroke-width="1.0" textLength="21.3" lengthAdjust="spacingAndGlyphs">25</text>
<text x="480.3" y="420.1" font-size="20" font-weight="bold" fill="#161616" stroke="#161616" stroke-width="0.95" textLength="56.3" lengthAdjust="spacingAndGlyphs">Besançon</text>
<text x="310.9" y="445.7" font-size="20" font-weight="bold" fill="#ec8a1c" stroke="#ec8a1c" stroke-width="1.0" textLength="22.7" lengthAdjust="spacingAndGlyphs">24</text>
<text x="287.7" y="463" font-size="20" font-weight="bold" fill="#161616" stroke="#161616" stroke-width="0.95" textLength="61.8" lengthAdjust="spacingAndGlyphs">Clermont-</text>
<text x="295.1" y="481.7" font-size="20" font-weight="bold" fill="#161616" stroke="#161616" stroke-width="0.95" textLength="47.4" lengthAdjust="spacingAndGlyphs">Ferrand</text>
<text x="383.7" y="454.7" font-size="20" font-weight="bold" fill="#8b0b0e" stroke="#8b0b0e" stroke-width="1.0" textLength="33.3" lengthAdjust="spacingAndGlyphs">336</text>
<text x="383.4" y="470.9" font-size="20" font-weight="bold" fill="#161616" stroke="#161616" stroke-width="0.95" textLength="28.5" lengthAdjust="spacingAndGlyphs">Lyon</text>
<text x="452.7" y="490.9" font-size="20" font-weight="bold" fill="#ec1c24" stroke="#ec1c24" stroke-width="1.0" textLength="24.0" lengthAdjust="spacingAndGlyphs">66</text>
<text x="479.6" y="490.9" font-size="20" font-weight="bold" fill="#161616" stroke="#161616" stroke-width="0.95" textLength="75.1" lengthAdjust="spacingAndGlyphs">Villeurbanne</text>
<text x="471.5" y="512.2" font-size="20" font-weight="bold" fill="#161616" stroke="#161616" stroke-width="0.95" textLength="54.4" lengthAdjust="spacingAndGlyphs">Grenoble</text>
<text x="529.2" y="512.2" font-size="20" font-weight="bold" fill="#efbb0a" stroke="#efbb0a" stroke-width="1.0" textLength="20.5" lengthAdjust="spacingAndGlyphs">18</text>
<text x="311.2" y="528" font-size="20" font-weight="bold" fill="#161616" stroke="#161616" stroke-width="0.95" textLength="82.4" lengthAdjust="spacingAndGlyphs">Saint-Étienne</text>
<text x="393.8" y="528" font-size="20" font-weight="bold" fill="#efbb0a" stroke="#efbb0a" stroke-width="1.0" textLength="20.5" lengthAdjust="spacingAndGlyphs">18</text>
<text x="230.6" y="477" font-size="20" font-weight="bold" fill="#efbb0a" stroke="#efbb0a" stroke-width="1.0" textLength="20.4" lengthAdjust="spacingAndGlyphs">18</text>
<text x="216.2" y="491.5" font-size="20" font-weight="bold" fill="#161616" stroke="#161616" stroke-width="0.95" textLength="50.3" lengthAdjust="spacingAndGlyphs">Limoges</text>
<text x="228.1" y="532.6" font-size="20" font-weight="bold" fill="#161616" stroke="#161616" stroke-width="0.95" textLength="56.9" lengthAdjust="spacingAndGlyphs">Bordeaux</text>
<text x="228.3" y="550.3" font-size="20" font-weight="bold" fill="#8b0b0e" stroke="#8b0b0e" stroke-width="1.0" textLength="30.7" lengthAdjust="spacingAndGlyphs">216</text>
<text x="220.9" y="602.9" font-size="20" font-weight="bold" fill="#161616" stroke="#161616" stroke-width="0.95" textLength="52.4" lengthAdjust="spacingAndGlyphs">Toulouse</text>
<text x="244.3" y="620.7" font-size="20" font-weight="bold" fill="#ec1c24" stroke="#ec1c24" stroke-width="1.0" textLength="22.7" lengthAdjust="spacingAndGlyphs">67</text>
<text x="305.6" y="599.6" font-size="20" font-weight="bold" fill="#161616" stroke="#161616" stroke-width="0.95" textLength="68.0" lengthAdjust="spacingAndGlyphs">Montpellier</text>
<text x="342.7" y="617.4" font-size="20" font-weight="bold" fill="#ec8a1c" stroke="#ec8a1c" stroke-width="1.0" textLength="22.7" lengthAdjust="spacingAndGlyphs">24</text>
<text x="270.6" y="665.2" font-size="20" font-weight="bold" fill="#161616" stroke="#161616" stroke-width="0.95" textLength="62.7" lengthAdjust="spacingAndGlyphs">Perpignan</text>
<text x="316.3" y="686.3" font-size="20" font-weight="bold" fill="#efbb0a" stroke="#efbb0a" stroke-width="1.0" textLength="21.1" lengthAdjust="spacingAndGlyphs">10</text>
<text x="396.3" y="564.6" font-size="20" font-weight="bold" fill="#efbb0a" stroke="#efbb0a" stroke-width="1.0" textLength="19.7" lengthAdjust="spacingAndGlyphs">16</text>
<text x="387.9" y="582" font-size="20" font-weight="bold" fill="#161616" stroke="#161616" stroke-width="0.95" textLength="37.4" lengthAdjust="spacingAndGlyphs">Nîmes</text>
<text x="448.9" y="584.8" font-size="20" font-weight="bold" fill="#ec8a1c" stroke="#ec8a1c" stroke-width="1.0" textLength="24.0" lengthAdjust="spacingAndGlyphs">30</text>
<text x="433.2" y="599.3" font-size="20" font-weight="bold" fill="#161616" stroke="#161616" stroke-width="0.95" textLength="56.2" lengthAdjust="spacingAndGlyphs">Aix-en-P.</text>
<text x="393.7" y="649.4" font-size="20" font-weight="bold" fill="#161616" stroke="#161616" stroke-width="0.95" textLength="52.7" lengthAdjust="spacingAndGlyphs">Marseille</text>
<text x="423.1" y="668.8" font-size="20" font-weight="bold" fill="#ec8a1c" stroke="#ec8a1c" stroke-width="1.0" textLength="23.8" lengthAdjust="spacingAndGlyphs">42</text>
<text x="486.4" y="644.2" font-size="20" font-weight="bold" fill="#161616" stroke="#161616" stroke-width="0.95" textLength="39.1" lengthAdjust="spacingAndGlyphs">Toulon</text>
<text x="487.8" y="663" font-size="20" font-weight="bold" fill="#ec8a1c" stroke="#ec8a1c" stroke-width="1.0" textLength="22.5" lengthAdjust="spacingAndGlyphs">24</text>
<text x="542.8" y="594.2" font-size="20" font-weight="bold" fill="#ec8a1c" stroke="#ec8a1c" stroke-width="1.0" textLength="22.1" lengthAdjust="spacingAndGlyphs">37</text>
<text x="543.2" y="612.5" font-size="20" font-weight="bold" fill="#161616" stroke="#161616" stroke-width="0.95" textLength="26.3" lengthAdjust="spacingAndGlyphs">Nice</text>
<text x="515.1" y="100" font-size="20" font-weight="bold" fill="#ec1c24" stroke="#ec1c24" stroke-width="1.0" textLength="23.5" lengthAdjust="spacingAndGlyphs">54</text>
<text x="496.5" y="118.4" font-size="20" font-weight="bold" fill="#161616" stroke="#161616" stroke-width="0.95" textLength="69.8" lengthAdjust="spacingAndGlyphs">Saint-Denis</text>
<text x="404.1" y="171.5" font-size="20" font-weight="bold" fill="#161616" stroke="#161616" stroke-width="0.95" textLength="75.6" lengthAdjust="spacingAndGlyphs">Boulogne-B.</text>
<text x="454.1" y="193.2" font-size="20" font-weight="bold" fill="#8b0b0e" stroke="#8b0b0e" stroke-width="1.0" textLength="31.7" lengthAdjust="spacingAndGlyphs">192</text>
<text x="559.2" y="155.3" font-size="20" font-weight="bold" fill="#8b0b0e" stroke="#8b0b0e" stroke-width="1.0" textLength="31.8" lengthAdjust="spacingAndGlyphs">192</text>
<text x="560.0" y="175.3" font-size="20" font-weight="bold" fill="#161616" stroke="#161616" stroke-width="0.95" textLength="57.5" lengthAdjust="spacingAndGlyphs">Montreuil</text>
<text x="513.2" y="192.9" font-size="20" font-weight="bold" fill="#8b0b0e" stroke="#8b0b0e" stroke-width="1.0" textLength="36.3" lengthAdjust="spacingAndGlyphs">240</text>
<text x="516.9" y="210.3" font-size="20" font-weight="bold" fill="#161616" stroke="#161616" stroke-width="0.95" textLength="29.4" lengthAdjust="spacingAndGlyphs">Paris</text>
<text x="33.1" y="487.5" font-size="19.5" font-weight="normal" fill="#646567" textLength="125.5" lengthAdjust="spacingAndGlyphs">Moins de 1 an et demi</text>
<text x="38.1" y="512.7" font-size="19.5" font-weight="normal" fill="#646567" textLength="133.1" lengthAdjust="spacingAndGlyphs">De 1 an et demi à 5 ans</text>
<text x="41.8" y="543.9" font-size="19.5" font-weight="normal" fill="#646567" textLength="98.4" lengthAdjust="spacingAndGlyphs">De 5 ans à 10 ans</text>
<text x="48.8" y="577.8" font-size="19.5" font-weight="normal" fill="#646567" textLength="80.4" lengthAdjust="spacingAndGlyphs">Plus de 10 ans</text>
<text x="13.0" y="710.5" font-size="14.8" font-weight="normal" fill="#3d3d3f" textLength="183.6" lengthAdjust="spacingAndGlyphs">SOURCE : MEILLEURTAUX.COM.</text>
<text x="404.1" y="710.5" font-size="14.8" font-weight="normal" fill="#3d3d3f" textLength="159.6" lengthAdjust="spacingAndGlyphs">LP/INFOGRAPHIE.  5/9/2021.</text>
</svg>
</body></html>
